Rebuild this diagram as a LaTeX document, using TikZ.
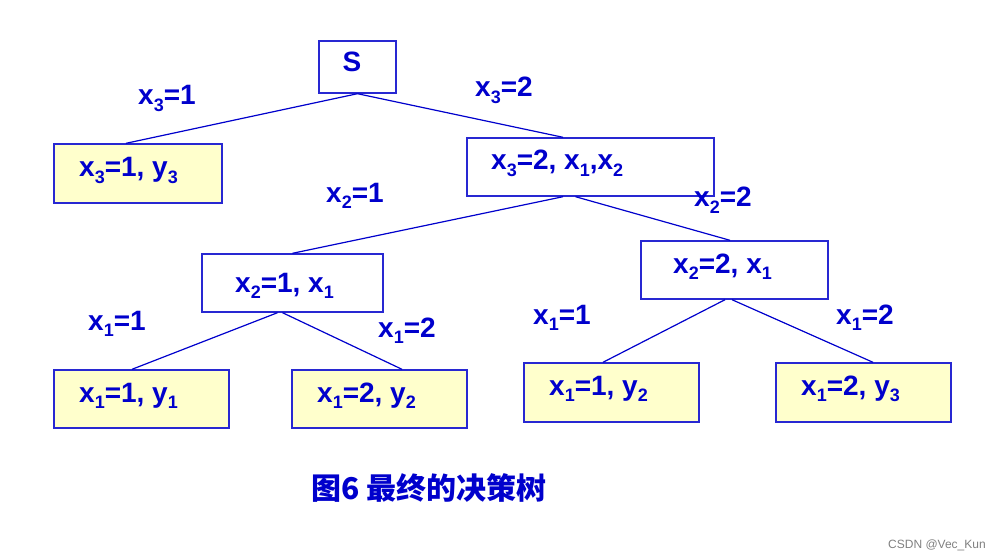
\documentclass[tikz,border=0pt]{standalone}
\usepackage{fontspec}
\setmainfont{Liberation Sans}
\newfontfamily\cjk{Noto Sans CJK SC}
\usetikzlibrary{calc}
\definecolor{dblue}{RGB}{0,0,204}
\definecolor{lblue}{RGB}{40,40,210}
\definecolor{pyellow}{RGB}{255,255,204}
\newcommand\sbx[1]{\raisebox{-6.5pt}{\fontsize{18}{18}\selectfont #1}}
\tikzset{
  treebox/.style={draw=lblue, line width=1.4pt, inner sep=0pt, minimum height=58pt},
  leafbox/.style={treebox, fill=pyellow},
  lbl/.style={anchor=base west, inner sep=0pt, text=dblue, font=\fontsize{28}{28}\selectfont\bfseries},
  edge/.style={draw=dblue, line width=1.2pt},
}
\begin{document}
\begin{tikzpicture}[x=1pt, y=-1pt]
\useasboundingbox (0,0) rectangle (999,559);
% boxes
\node[treebox, minimum width=77pt, minimum height=52pt] (S) at (357.5,67) {};
\node[leafbox, minimum width=168pt, minimum height=59pt] (a) at (138,173.5) {};
\node[treebox, minimum width=247pt] (b) at (590.5,167) {};
\node[treebox, minimum width=181pt] (c) at (292.5,283) {};
\node[treebox, minimum width=187pt] (d) at (734.5,270) {};
\node[leafbox, minimum width=175pt] (e) at (141.5,399) {};
\node[leafbox, minimum width=175pt] (f) at (379.5,399) {};
\node[leafbox, minimum width=175pt, minimum height=59pt] (g) at (611.5,392.5) {};
\node[leafbox, minimum width=175pt, minimum height=59pt] (h) at (863.5,392.5) {};
% box texts
\node[lbl] (tS) at (342.5,72) {S};
\node[lbl] (ta) at (79,177) {x\sbx{3}=1, y\sbx{3}};
\node[lbl] (tb) at (491,170) {x\sbx{3}=2, x\sbx{1},x\sbx{2}};
\node[lbl] (tc) at (235,292) {x\sbx{2}=1, x\sbx{1}};
\node[lbl] (td) at (673,273) {x\sbx{2}=2, x\sbx{1}};
\node[lbl] (te) at (79,402) {x\sbx{1}=1, y\sbx{1}};
\node[lbl] (tf) at (317,402) {x\sbx{1}=2, y\sbx{2}};
\node[lbl] (tg) at (549,395) {x\sbx{1}=1, y\sbx{2}};
\node[lbl] (th) at (801,395) {x\sbx{1}=2, y\sbx{3}};
% connectors
\draw[edge] (S.south) -- ([xshift=-12pt]a.north);
\draw[edge] (S.south) -- ([xshift=-27.5pt]b.north);
\draw[edge] ([xshift=-27.5pt]b.south) -- (c.north);
\draw[edge] ([xshift=-15pt]b.south) -- ([xshift=-4.5pt]d.north);
\draw[edge] ([xshift=-15pt]c.south) -- ([xshift=-9.5pt]e.north);
\draw[edge] ([xshift=-10pt]c.south) -- ([xshift=22.5pt]f.north);
\draw[edge] ([xshift=-9.5pt]d.south) -- ([xshift=-8.5pt]g.north);
\draw[edge] ([xshift=-2.5pt]d.south) -- ([xshift=9.5pt]h.north);
% edge labels
\node[lbl] (l1) at (138,105) {x\sbx{3}=1};
\node[lbl] (l2) at (475,97) {x\sbx{3}=2};
\node[lbl] (l3) at (326,202) {x\sbx{2}=1};
\node[lbl] (l4) at (694,207) {x\sbx{2}=2};
\node[lbl] (l5) at (88,330) {x\sbx{1}=1};
\node[lbl] (l6) at (378,337) {x\sbx{1}=2};
\node[lbl] (l7) at (533,324) {x\sbx{1}=1};
\node[lbl] (l8) at (836,324) {x\sbx{1}=2};
% caption
\node[anchor=base west, inner sep=0pt, text=dblue, font=\cjk\bfseries\fontsize{30}{30}\selectfont] (cap) at (311,499) {图6 最终的决策树};
\node[anchor=base west, inner sep=0pt, text=gray, font=\fontsize{12}{12}\selectfont] (wm) at (888,548) {CSDN @Vec\_Kun};
\end{tikzpicture}
\end{document}
